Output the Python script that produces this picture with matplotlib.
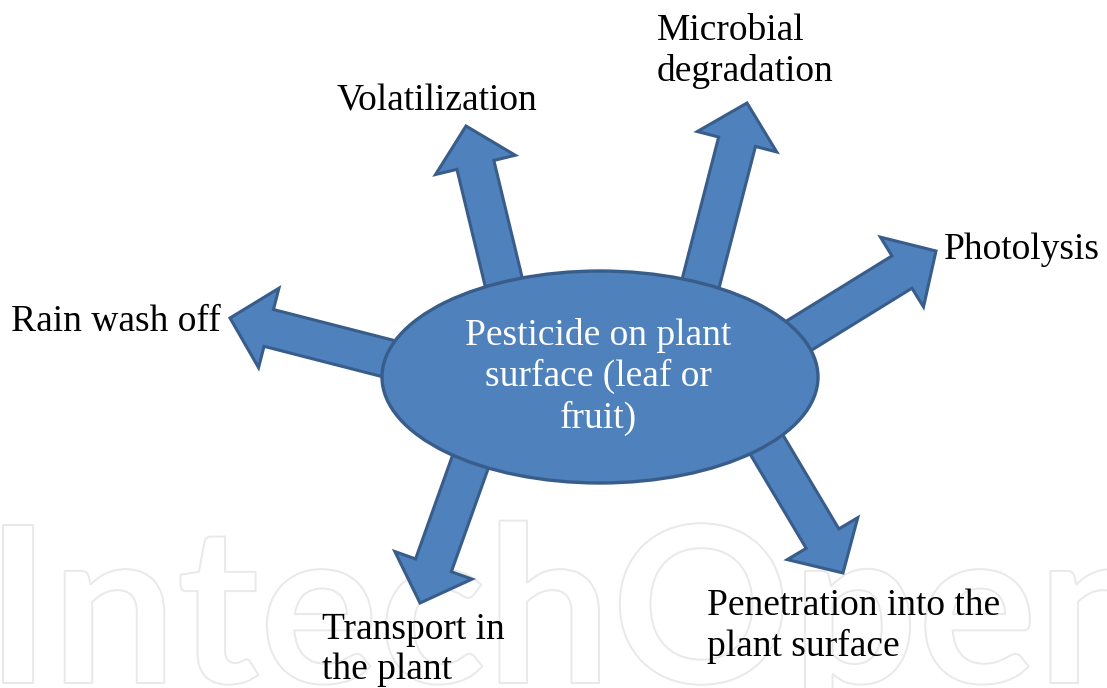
import matplotlib
matplotlib.use("Agg")
import numpy as np
import matplotlib.pyplot as plt
from matplotlib.patches import Ellipse, FancyArrow, PathPatch
from matplotlib.textpath import TextPath
from matplotlib.font_manager import FontProperties
from matplotlib.transforms import Affine2D

# pathways of pesticide loss from the plant surface
centre_label = "Pesticide on plant\nsurface (leaf or\nfruit)"
labels = ["Rain wash off", "Volatilization", "Microbial\ndegradation",
          "Photolysis", "Penetration into the\nplant surface", "Transport in\nthe plant"]
# arrow bases (where they leave the ellipse) and tips, in pixel units
arrow_base = [(386, 358), (502, 275), (702, 278), (800, 335), (768, 447), (470, 463)]
arrow_tip = [(230, 318), (466, 126), (747, 103), (936, 251), (843, 573), (420, 603)]
# label anchor points
label_xy = [(116, 322), (437, 101), (657, 51), (944, 250), (707, 626), (322, 650)]
label_ha = ["center", "center", "left", "left", "left", "left"]

fill = "#4F81BD"
edge = "#385D8A"
serif = ["Liberation Serif", "DejaVu Serif"]

fig = plt.figure(figsize=(11.07, 6.88), dpi=100)
ax = fig.add_axes([0, 0, 1, 1])
ax.set_xlim(0, 1107)
ax.set_ylim(688, 0)
ax.axis("off")

# watermark in the background
fp = FontProperties(family="Lato", weight="bold")
tp = TextPath((0, 0), "IntechOpen", size=100, prop=fp)
ext = tp.get_extents()
cap = TextPath((0, 0), "I", size=100, prop=fp).get_extents().height
sx = (1150 - 3) / ext.width
sy = 158 / cap
tr = Affine2D().translate(-ext.x0, 0).scale(sx, -sy).translate(3, 683)
ax.add_patch(PathPatch(tr.transform_path(tp), facecolor="white",
                       edgecolor="#e9e9e9", lw=1.4, zorder=0))

# arrows, drawn from inside the ellipse
for (bx, by), (tx, ty) in zip(arrow_base, arrow_tip):
    d = np.array([tx - bx, ty - by], dtype=float)
    u = d / np.hypot(*d)
    sx0, sy0 = bx - 50 * u[0], by - 50 * u[1]
    ax.add_patch(FancyArrow(sx0, sy0, tx - sx0, ty - sy0, width=38,
                            head_width=82, head_length=40,
                            length_includes_head=True, fc=fill, ec=edge,
                            lw=2.2, joinstyle="miter", zorder=2))

ax.add_patch(Ellipse((600, 377), 436, 212, fc=fill, ec=edge, lw=2.4, zorder=3))
ax.text(598, 377, centre_label, ha="center", va="center", color="white",
        fontsize=27, family=serif, linespacing=1.22, zorder=4)

for lab, (x, y), ha in zip(labels, label_xy, label_ha):
    ax.text(x, y, lab, ha=ha, va="center", fontsize=27, family=serif,
            color="black", linespacing=1.22, multialignment="left", zorder=4)

fig.savefig("out.png", dpi=100)
